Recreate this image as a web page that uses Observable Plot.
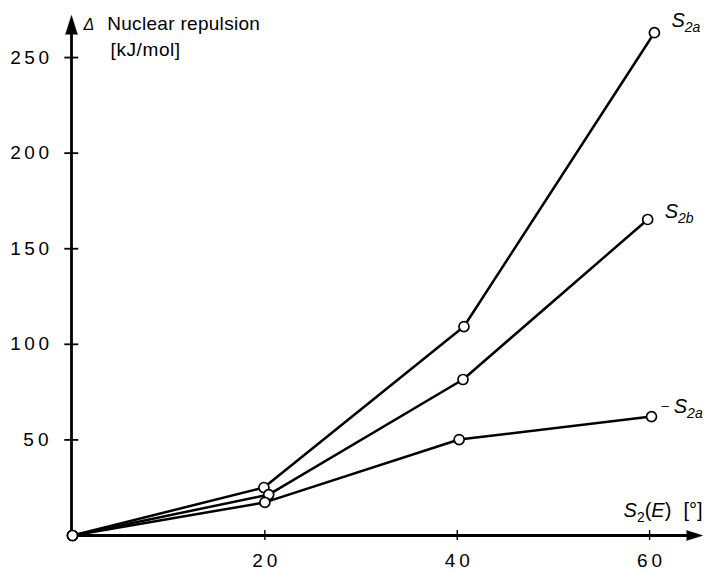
<!DOCTYPE html>
<html>
<head>
<meta charset="utf-8">
<script src="https://cdn.jsdelivr.net/npm/d3@7"></script>
<script src="https://cdn.jsdelivr.net/npm/@observablehq/plot@0.6"></script>
<style>
  html, body { margin: 0; padding: 0; background: #fff; }
  #chart svg { display: block; }
</style>
</head>
<body>
<div id="chart"></div>
<script>
// ---- Data ----
const seriesNames = ["S2a (upper)", "S2b", "S2a (lower)"];
const seriesLabels = ["S|2a", "S|2b", "– S|2a"];
const anglesUpper = [0, 19.9, 40.7, 60.5];
const repulsionUpper = [0, 25.1, 109.3, 263];
const anglesMiddle = [0, 20.4, 40.6, 59.8];
const repulsionMiddle = [0, 21.4, 81.6, 165.3];
const anglesLower = [0, 20, 40.2, 60.2];
const repulsionLower = [0, 17.3, 50.2, 62.2];
const yTicks = [50, 100, 150, 200, 250];
const xTicks = [20, 40, 60];

const allAngles = [anglesUpper, anglesMiddle, anglesLower];
const allRep = [repulsionUpper, repulsionMiddle, repulsionLower];
const rows = [];
seriesNames.forEach((s, i) => {
  allAngles[i].forEach((a, j) => rows.push({series: s, angle: a, rep: allRep[i][j]}));
});
const ends = seriesNames.map((s, i) => ({
  series: s, label: seriesLabels[i],
  angle: allAngles[i][allAngles[i].length - 1],
  rep: allRep[i][allRep[i].length - 1]
}));
const labelOffsets = [[17, -12], [17, -8], [10, -10]];

const font = "'Liberation Sans', Arial, Helvetica, sans-serif";

const chart = Plot.plot({
  width: 706,
  height: 570,
  marginLeft: 72,
  marginRight: 4,
  marginTop: 15,
  marginBottom: 35,
  x: {domain: [0, 65.5], axis: null},
  y: {domain: [0, 272], axis: null},
  style: {fontFamily: font, background: "white", color: "black", overflow: "visible"},
  marks: [
    // axes lines
    Plot.ruleX([0], {x: () => 0, y1: () => 0, y2: () => 262, stroke: "black", strokeWidth: 2.8, dx: -1}),
    Plot.ruleY([0], {y: () => 0, x1: () => 0, x2: () => 64, stroke: "black", strokeWidth: 2.8}),
    // arrow heads
    Plot.vector([0], {x: () => 0, y: () => 272, anchor: "end", length: 19, r: 6, shape: "spike", rotate: 0,
      fill: "black", fillOpacity: 1, stroke: "black", strokeWidth: 0.5, dx: -1}),
    Plot.vector([0], {x: () => 65.5, y: () => 0, anchor: "end", length: 16, r: 5, shape: "spike", rotate: 90,
      fill: "black", fillOpacity: 1, stroke: "black", strokeWidth: 0.5}),
    // tick marks crossing the axes
    Plot.ruleY(yTicks, {y: d => d, x1: () => -0.8, x2: () => 0.65, stroke: "black", strokeWidth: 1.8}),
    Plot.ruleX(xTicks, {x: d => d, y1: () => -2.6, y2: () => 2.6, stroke: "black", strokeWidth: 1.4}),
    // tick labels
    Plot.text(yTicks, {x: () => 0, y: d => d, text: d => String(d), dx: -20, textAnchor: "end",
      lineAnchor: "middle", fontSize: 19, fill: "black"}),
    Plot.text(xTicks, {x: d => d, y: () => 0, text: d => String(d), dx: 2, dy: 25, textAnchor: "middle",
      lineAnchor: "middle", fontSize: 19, fill: "black"}),
    // series lines and points
    Plot.line(rows, {x: "angle", y: "rep", z: "series", stroke: "black", strokeWidth: 2.5}),
    Plot.dot(rows, {x: "angle", y: "rep", r: 5, fill: "white", stroke: "black", strokeWidth: 1.7}),
    // series labels
    Plot.text(ends, {x: "angle", y: "rep", text: "label", textAnchor: "start", lineAnchor: "middle",
      fontSize: 20, fill: "black"}),
    // axis titles
    Plot.text(["Δ|Nuclear repulsion"], {x: () => 0, y: () => 272, text: d => d,
      textAnchor: "start", lineAnchor: "middle", dx: 11, dy: 8, fontSize: 19, fill: "black"}),
    Plot.text(["[kJ/mol]"], {x: () => 0, y: () => 250, text: d => d, textAnchor: "start",
      lineAnchor: "middle", dx: 38, dy: -8, fontSize: 19, fill: "black"}),
    Plot.text(["S(E)"], {x: () => 65.5, y: () => 0, text: d => d, textAnchor: "end",
      lineAnchor: "middle", dx: 0, dy: -25, fontSize: 20, fill: "black"})
  ]
});

document.getElementById("chart").appendChild(chart);

// ---- post-process text for italics / subscripts / spacing ----
const svg = d3.select(chart);
svg.selectAll("text").each(function() {
  const t = d3.select(this);
  const s = t.text();
  if (/^\d+$/.test(s)) {
    t.attr("letter-spacing", s.length === 2 ? 4 : 3.5);
    return;
  }
  function sub(parent, txt, italic) {
    parent.append("tspan").attr("font-size", 14).attr("dy", 5).attr("font-style", italic ? "italic" : null).text(txt);
  }
  if (s.includes("|2")) {
    const [pre, post] = s.split("|");
    const isDash = pre.startsWith("–");
    t.text(null);
    const idx = seriesLabels.indexOf(s);
    const off = labelOffsets[idx] || [0, 0];
    t.attr("transform", (t.attr("transform") || "") + ` translate(${off[0]},${off[1]})`);
    if (isDash) {
      t.append("tspan").attr("font-size", 13).attr("dy", -3).text("–");
      t.append("tspan").attr("font-style", "italic").attr("dx", 5).attr("dy", 3).text("S");
    } else {
      t.append("tspan").attr("font-style", "italic").text("S");
    }
    sub(t, post, true);
  } else if (s === "Δ|Nuclear repulsion") {
    t.text(null);
    t.append("tspan").attr("font-style", "italic").attr("font-size", 16).text("Δ");
    t.append("tspan").attr("dx", 13).attr("letter-spacing", 0.3).text("Nuclear repulsion");
  } else if (s === "[kJ/mol]") {
    t.attr("letter-spacing", 0.6);
  } else if (s === "S(E)") {
    t.text(null);
    t.append("tspan").attr("font-style", "italic").text("S");
    t.append("tspan").attr("font-size", 14).attr("dy", 5).text("2");
    t.append("tspan").attr("dy", -5).text("(");
    t.append("tspan").attr("font-style", "italic").text("E");
    t.append("tspan").text(")");
    t.append("tspan").attr("dx", 12).text("[°]");
  }
});
</script>
</body>
</html>
